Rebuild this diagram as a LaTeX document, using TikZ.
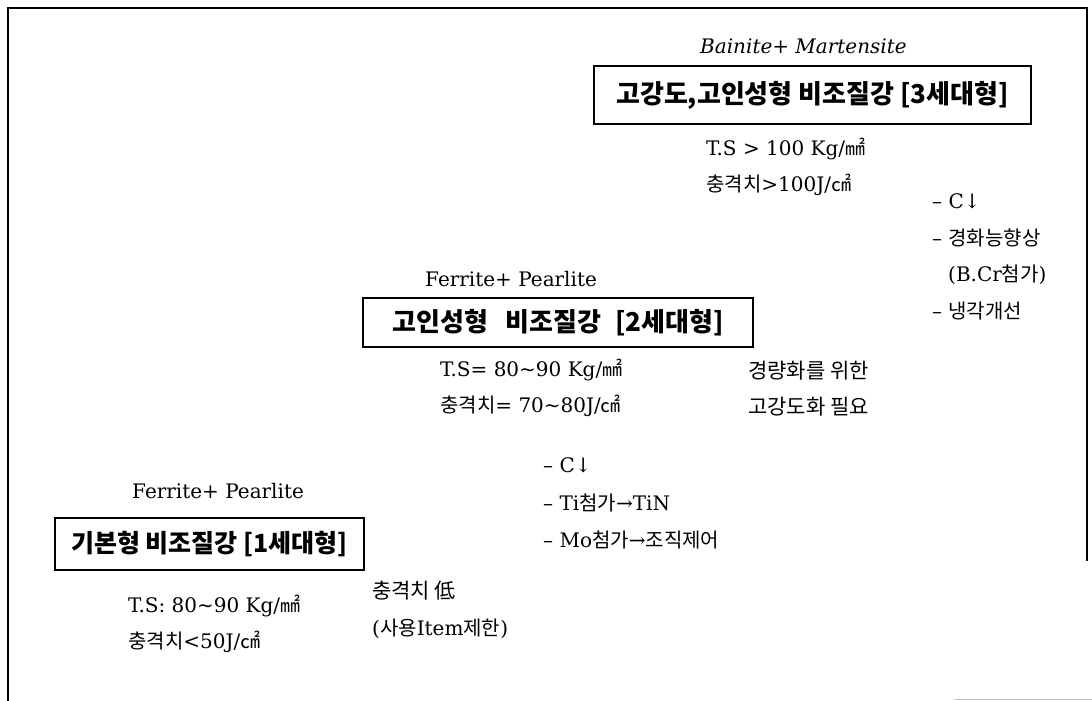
\documentclass[tikz,border=0pt]{standalone}
\usepackage{fontspec}
\setmainfont{DejaVu Serif}
\newfontfamily\kr{Noto Sans CJK KR}
\newcommand\kor[1]{{\kr #1}}
\tikzset{
  frameline/.style={line width=2pt, line cap=rect},
  lat/.style={anchor=base west, inner sep=0pt, font=\fontsize{20}{24}\selectfont},
  latit/.style={lat, font=\fontsize{20}{24}\selectfont\itshape},
  ko/.style={anchor=base west, inner sep=0pt, font=\fontsize{21}{24}\selectfont\kr},
  genbox/.style={draw, line width=1.6pt, inner sep=0pt, font=\fontsize{26}{30}\selectfont\kr\bfseries}
}
\begin{document}
\begin{tikzpicture}[x=1pt, y=-1pt]
\useasboundingbox (0,0) rectangle (1092,701);
% frame
\coordinate (fbl) at (8,701);
\coordinate (ftl) at (8,8);
\coordinate (ftr) at (1087,8);
\coordinate (fbr) at (1087,560);
\draw[frameline] (fbl) -- (ftl) -- (ftr) -- (fbr);
\coordinate (g1) at (955,699.5);
\coordinate (g2) at (1092,699.5);
\draw[black!25, line width=1pt] (g1) -- (g2);

% third generation
\node[latit] (bm) at (700,53) {Bainite+ Martensite};
\node[genbox, minimum width=437pt, minimum height=58pt] (g3) at (812.5,95) {고강도,고인성형 비조질강 [3세대형]};
\node[lat] (ts3) at (706,155) {T.S > 100 Kg/\kor{㎟}};
\node[lat] (ci3) at (706,191) {\kor{충격치}>100J/\kor{㎠}};
\node[lat] (c3a) at (932,208) {– C↓};
\node[lat] (c3b) at (932,245) {– \kor{경화능향상}};
\node[lat] (c3c) at (948,281) {(B.Cr\kor{첨가})};
\node[lat] (c3d) at (932,318) {– \kor{냉각개선}};

% second generation
\node[lat] (fp2) at (425,286) {Ferrite+ Pearlite};
\node[genbox, minimum width=390pt, minimum height=49pt] (g2box) at (558,322.5) {고인성형\hspace{0.45em} 비조질강\hspace{0.3em} [2세대형]};
\node[lat] (ts2) at (440,376) {T.S= 80\textasciitilde90 Kg/\kor{㎟}};
\node[lat] (ci2) at (440,412) {\kor{충격치}= 70\textasciitilde80J/\kor{㎠}};
\node[ko] (n2a) at (748,378) {경량화를 위한};
\node[ko] (n2b) at (748,414) {고강도화 필요};
\node[lat] (c2a) at (543,472) {– C↓};
\node[lat] (c2b) at (543,510) {– Ti\kor{첨가}→TiN};
\node[lat] (c2c) at (543,547) {– Mo\kor{첨가}→\kor{조직제어}};

% first generation
\node[lat] (fp1) at (132,498) {Ferrite+ Pearlite};
\node[genbox, minimum width=309pt, minimum height=52pt] (g1box) at (209.5,544) {\fontsize{25}{30}\selectfont 기본형 비조질강 [1세대형]};
\node[lat] (ts1) at (128,612) {T.S: 80\textasciitilde90 Kg/\kor{㎟}};
\node[lat] (ci1) at (128,648) {\kor{충격치}<50J/\kor{㎠}};
\node[ko] (n1a) at (372,598) {충격치 低};
\node[lat] (n1b) at (372,635) {(\kor{사용}Item\kor{제한})};
\end{tikzpicture}
\end{document}
